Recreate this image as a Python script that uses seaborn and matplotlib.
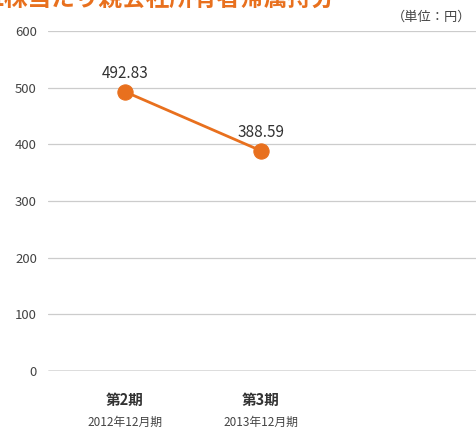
import matplotlib
matplotlib.use("Agg")
import matplotlib.pyplot as plt
import seaborn as sns
import pandas as pd

periods = ["第2期", "第3期"]
dates = ["2012年12月期", "2013年12月期"]
values = [492.83, 388.59]
yticks = [0, 100, 200, 300, 400, 500, 600]
title = "1株当たり親会社所有者帰属持分"
unit = "（単位：円）"

sns.set_style("white")
plt.rcParams['font.family'] = ['Noto Sans CJK JP', 'DejaVu Sans']

orange = "#E8701E"
W, H = 476, 434
fig = plt.figure(figsize=(W / 100, H / 100), dpi=100)
ax = fig.add_axes([48 / W, (H - 371) / H, 1 - 48 / W, 340 / H])

df = pd.DataFrame({"x": [0, 1], "value": values})
sns.lineplot(data=df, x="x", y="value", ax=ax, color=orange, linewidth=2,
             marker="o", markersize=11, markeredgecolor=orange, markerfacecolor=orange)

ax.set_ylim(0, 600)
ax.set_xlim(-0.566, 2.58)
for t in yticks:
    ax.axhline(t, color="#555555" if t == 0 else "#cccccc",
               linewidth=1.0 if t == 0 else 0.9, zorder=0)
ax.set_yticks(yticks)
ax.set_yticklabels([str(t) for t in yticks], fontsize=9.5, color="#444444")
ax.tick_params(axis="y", length=0, pad=8)
ax.set_xticks([0, 1])
ax.set_xticklabels([])
ax.tick_params(axis="x", length=0)
for s in ax.spines.values():
    s.set_visible(False)
ax.set_xlabel("")
ax.set_ylabel("")

for i, (p, d, v) in enumerate(zip(periods, dates, values)):
    ax.annotate(f"{v:.2f}", (i, v), xytext=(0, 7), textcoords="offset points",
                ha="center", va="bottom", fontsize=11, color="#333333")
    ax.annotate(p, (i, 0), xytext=(0, -21), textcoords="offset points",
                ha="center", va="center", fontsize=10.5, fontweight="bold", color="#333333")
    ax.annotate(d, (i, 0), xytext=(0, -37), textcoords="offset points",
                ha="center", va="center", fontsize=8.5, color="#444444")

fig.text(-10 / W, (H - 11) / H, title, fontsize=17, fontweight="bold",
         color=orange, ha="left", va="bottom")
fig.text(471 / W, (H - 17) / H, unit, fontsize=9.5, color="#444444",
         ha="right", va="center")

fig.savefig("out.png", dpi=100)
